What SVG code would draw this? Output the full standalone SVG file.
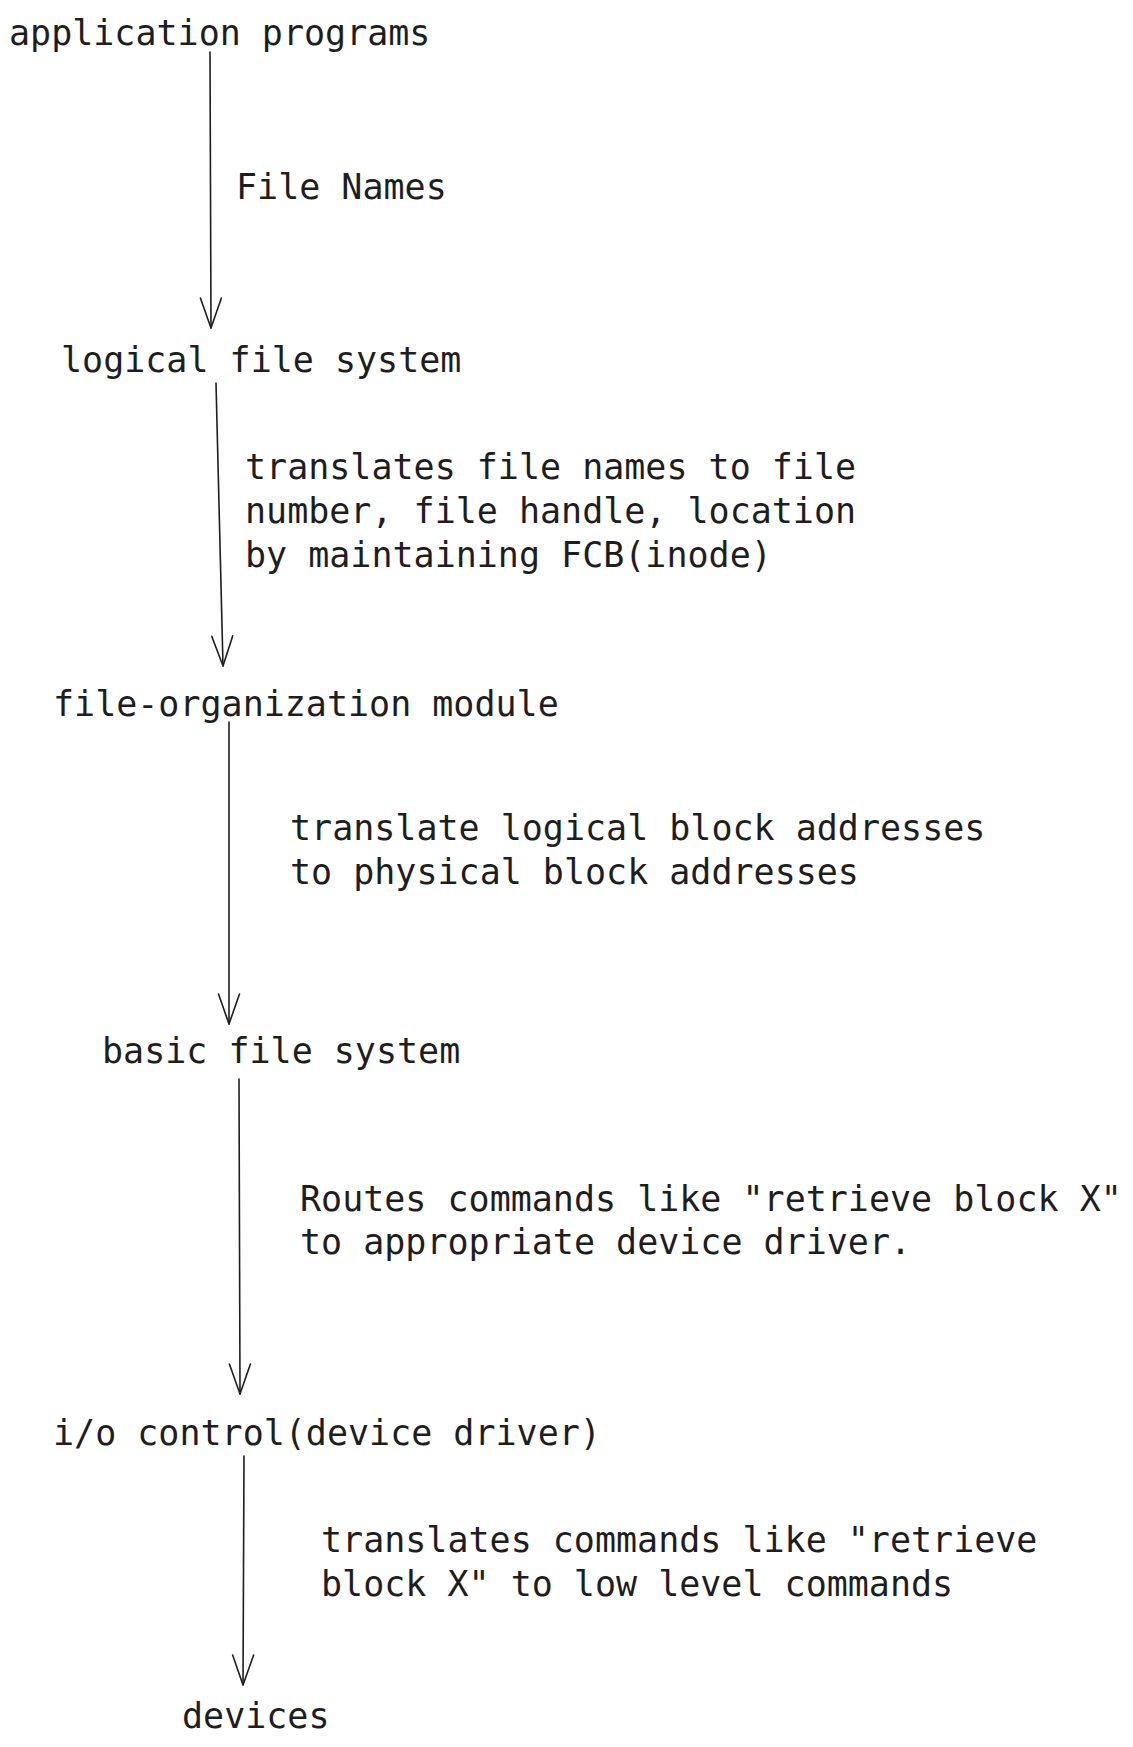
<svg xmlns="http://www.w3.org/2000/svg" width="1133" height="1747" viewBox="0 0 1133 1747">
  <style>
    .t { font-family: "DejaVu Sans Mono", "Liberation Mono", monospace; font-size: 35px; fill: #1e1e1e; }
    .c { fill: none; stroke: #1e1e1e; stroke-width: 1.6; stroke-linecap: round; stroke-linejoin: round; }
  </style>
  <defs>
    <marker id="ah" markerUnits="userSpaceOnUse" orient="auto" refX="0" refY="0" markerWidth="40" markerHeight="30" viewBox="-35 -15 40 30" overflow="visible">
      <path d="M-30,-10.5 L0,0 L-30,10.5" fill="none" stroke="#1e1e1e" stroke-width="1.6" stroke-linecap="round" stroke-linejoin="round"/>
    </marker>
  </defs>
  <rect width="1133" height="1747" fill="#ffffff"/>

  <g id="connectors">
    <path class="c" d="M210,52 L211,328" marker-end="url(#ah)"/>
    <path class="c" d="M216,383 L223,666" marker-end="url(#ah)"/>
    <path class="c" d="M229,722 L229,1024" marker-end="url(#ah)"/>
    <path class="c" d="M239,1079 L240,1394" marker-end="url(#ah)"/>
    <path class="c" d="M244,1456 L243,1685" marker-end="url(#ah)"/>
  </g>

  <g id="node-application-programs">
    <text class="t" x="9" y="45">application programs</text>
  </g>
  <g id="label-file-names">
    <text class="t" x="236" y="199">File Names</text>
  </g>
  <g id="node-logical-file-system">
    <text class="t" x="61" y="372">logical file system</text>
  </g>
  <g id="label-translates-file-names">
    <text class="t" x="245" y="479">translates file names to file</text>
    <text class="t" x="245" y="523">number, file handle, location</text>
    <text class="t" x="245" y="567">by maintaining FCB(inode)</text>
  </g>
  <g id="node-file-organization-module">
    <text class="t" x="53" y="716">file-organization module</text>
  </g>
  <g id="label-translate-logical">
    <text class="t" x="290" y="840">translate logical block addresses</text>
    <text class="t" x="290" y="884">to physical block addresses</text>
  </g>
  <g id="node-basic-file-system">
    <text class="t" x="102" y="1063">basic file system</text>
  </g>
  <g id="label-routes-commands">
    <text class="t" x="300" y="1211">Routes commands like "retrieve block X"</text>
    <text class="t" x="300" y="1254">to appropriate device driver.</text>
  </g>
  <g id="node-io-control">
    <text class="t" x="53" y="1445">i/o control(device driver)</text>
  </g>
  <g id="label-translates-commands">
    <text class="t" x="321" y="1552">translates commands like "retrieve</text>
    <text class="t" x="321" y="1596">block X" to low level commands</text>
  </g>
  <g id="node-devices">
    <text class="t" x="182" y="1728">devices</text>
  </g>
</svg>
